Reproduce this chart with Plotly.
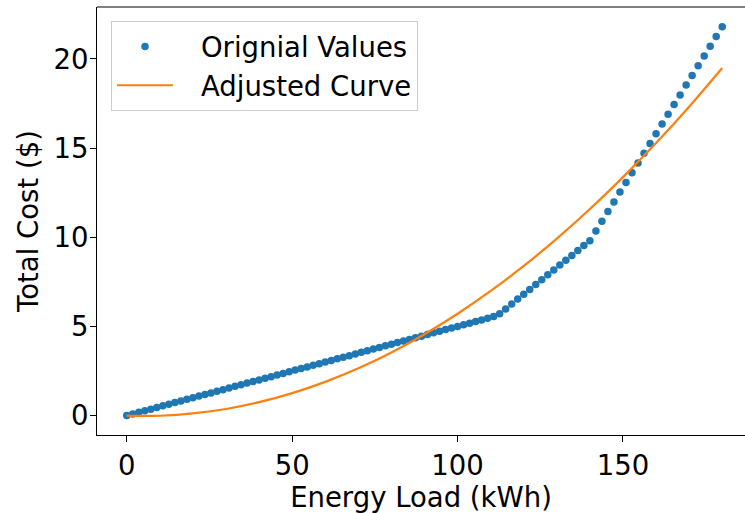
import plotly.graph_objects as go

# Original data points (kWh, $)
energy_load = [
    0.0, 1.82, 3.64, 5.45, 7.27, 9.09, 10.91, 12.73, 14.55, 16.36, 18.18,
    20.0, 21.82, 23.64, 25.45, 27.27, 29.09, 30.91, 32.73, 34.55, 36.36, 38.18,
    40.0, 41.82, 43.64, 45.45, 47.27, 49.09, 50.91, 52.73, 54.55, 56.36, 58.18,
    60.0, 61.82, 63.64, 65.45, 67.27, 69.09, 70.91, 72.73, 74.55, 76.36, 78.18,
    80.0, 81.82, 83.64, 85.45, 87.27, 89.09, 90.91, 92.73, 94.55, 96.36, 98.18,
    100.0, 101.82, 103.64, 105.45, 107.27, 109.09, 110.91, 112.73, 114.55, 116.36, 118.18,
    120.0, 121.82, 123.64, 125.45, 127.27, 129.09, 130.91, 132.73, 134.55, 136.36, 138.18,
    140.0, 141.82, 143.64, 145.45, 147.27, 149.09, 150.91, 152.73, 154.55, 156.36, 158.18,
    160.0, 161.82, 163.64, 165.45, 167.27, 169.09, 170.91, 172.73, 174.55, 176.36, 178.18,
    180.0,
]
total_cost = [
    0.0, 0.09, 0.18, 0.27, 0.36, 0.45, 0.55, 0.64, 0.73, 0.82, 0.91,
    1.0, 1.09, 1.18, 1.27, 1.36, 1.45, 1.55, 1.64, 1.73, 1.82, 1.91,
    2.0, 2.09, 2.18, 2.27, 2.36, 2.45, 2.55, 2.64, 2.73, 2.82, 2.91,
    3.0, 3.09, 3.18, 3.27, 3.36, 3.45, 3.55, 3.64, 3.73, 3.82, 3.91,
    4.0, 4.09, 4.18, 4.27, 4.36, 4.45, 4.55, 4.64, 4.73, 4.82, 4.91,
    5.0, 5.09, 5.18, 5.27, 5.36, 5.45, 5.55, 5.71, 5.98, 6.25, 6.53,
    6.8, 7.07, 7.35, 7.62, 7.89, 8.16, 8.44, 8.71, 8.98, 9.25, 9.53,
    9.8, 10.35, 10.89, 11.44, 11.98, 12.53, 13.07, 13.62, 14.16, 14.71, 15.25,
    15.8, 16.35, 16.89, 17.44, 17.98, 18.53, 19.07, 19.62, 20.16, 20.71, 21.25,
    21.8,
]
assert len(energy_load) == len(total_cost)

# Adjusted (fitted) curve
curve_load = [0, 5, 10, 20, 30, 40, 50, 60, 70, 80, 90, 100, 110, 120, 130, 140, 150, 160, 170, 180]
curve_cost = [0.0, -0.02, -0.01, 0.12, 0.37, 0.75, 1.26, 1.89, 2.65, 3.54, 4.56, 5.71,
              6.99, 8.39, 9.92, 11.58, 13.37, 15.28, 17.32, 19.49]

x_ticks = [0, 50, 100, 150]
y_ticks = [0, 5, 10, 15, 20]

FONT = "DejaVu Sans"
FS = 27.5
PAD = "\u00a0\u00a0\u2009"  # gap between legend symbol and label

fig = go.Figure()
fig.add_trace(go.Scatter(
    x=energy_load, y=total_cost, mode="markers", name=PAD + "Orignial Values",
    marker=dict(color="#1f77b4", size=7.5, line=dict(width=0)),
))
fig.add_trace(go.Scatter(
    x=curve_load, y=curve_cost, mode="lines", name=PAD + "Adjusted Curve",
    line=dict(color="#ff7f0e", width=2.2, shape="spline", smoothing=1.0),
))

axis_common = dict(
    showgrid=False, zeroline=False, showline=True, linecolor="black", linewidth=1.1,
    ticks="outside", ticklen=6, tickwidth=1.1, tickcolor="black",
    tickfont=dict(family=FONT, size=FS, color="black"),
    title_font=dict(family=FONT, size=FS, color="black"),
)

fig.update_layout(
    width=745, height=513,
    margin=dict(l=97, r=0, t=7, b=78),
    paper_bgcolor="white", plot_bgcolor="white",
    font=dict(family=FONT, size=FS, color="black"),
    xaxis=dict(range=[-9, 186.89], tickvals=x_ticks,
               title=dict(text="Energy Load (kWh)", standoff=5), **axis_common),
    yaxis=dict(range=[-1.09, 22.91], tickvals=y_ticks, ticklabelstandoff=-4,
               title=dict(text="Total Cost ($)", standoff=6), **axis_common),
    legend=dict(
        x=0.0216, y=0.967, xanchor="left", yanchor="top",
        bgcolor="rgba(255,255,255,0.8)", bordercolor="#cccccc", borderwidth=1,
        font=dict(family=FONT, size=FS, color="black"),
        itemwidth=56,
    ),
    shapes=[dict(type="line", xref="paper", yref="paper", x0=0, x1=1, y0=1, y1=1,
                 line=dict(color="black", width=1.1))],
)

fig.write_html("out.html")
